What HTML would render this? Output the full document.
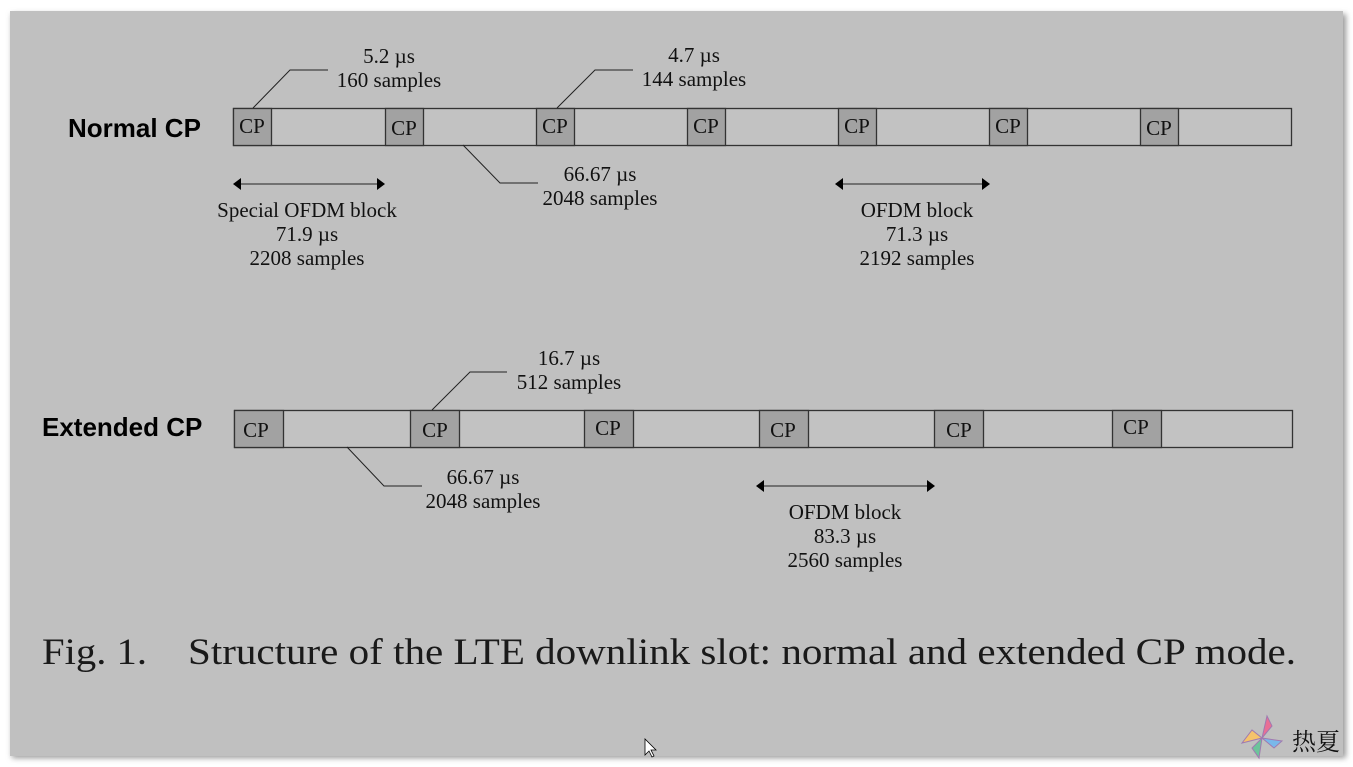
<!DOCTYPE html>
<html><head><meta charset="utf-8"><style>
html,body{margin:0;padding:0;background:#fff;width:1353px;height:767px;overflow:hidden}
svg{display:block}
.s{font-family:"Liberation Serif",serif;font-size:21px;fill:#111}
.b{font-family:"Liberation Sans",sans-serif;font-weight:bold;font-size:26px;fill:#000}
</style></head><body>
<svg width="1353" height="767" viewBox="0 0 1353 767">
<defs>
<filter id="sh" x="-5%" y="-5%" width="110%" height="110%"><feGaussianBlur stdDeviation="3"/></filter>
</defs>
<rect x="12" y="14" width="1334" height="744" fill="#999" filter="url(#sh)"/>
<rect x="10" y="11" width="1333" height="745" fill="#c0c0c0"/>

<!-- Normal CP -->
<text class="b" x="68" y="137">Normal CP</text>
<rect x="233.5" y="108.5" width="1058" height="37" fill="#c2c2c2" stroke="#333" stroke-width="1.3"/>
<g fill="#a2a2a2" stroke="#333" stroke-width="1.3">
<rect x="233.5" y="108.5" width="38" height="37"/>
<rect x="385.5" y="108.5" width="38" height="37"/>
<rect x="536.5" y="108.5" width="38" height="37"/>
<rect x="687.5" y="108.5" width="38" height="37"/>
<rect x="838.5" y="108.5" width="38" height="37"/>
<rect x="989.5" y="108.5" width="38" height="37"/>
<rect x="1140.5" y="108.5" width="38" height="37"/>
</g>
<g class="s" text-anchor="middle">
<text x="252" y="133">CP</text>
<text x="404" y="135">CP</text>
<text x="555" y="133">CP</text>
<text x="706" y="133">CP</text>
<text x="857" y="133">CP</text>
<text x="1008" y="133">CP</text>
<text x="1159" y="135">CP</text>
</g>
<g stroke="#222" stroke-width="1" fill="none">
<polyline points="253,108 290,70 328,70"/>
<polyline points="557,108 595,70 633,70"/>
<polyline points="463,145 500,183 538,183"/>
<line x1="240" y1="184" x2="378" y2="184"/>
<line x1="842" y1="184" x2="983" y2="184"/>
<line x1="763" y1="486" x2="928" y2="486"/>
</g>
<g fill="#000">
<polygon points="233,184 241,178 241,190"/><polygon points="385,184 377,178 377,190"/>
<polygon points="835,184 843,178 843,190"/><polygon points="990,184 982,178 982,190"/>
<polygon points="756,486 764,480 764,492"/><polygon points="935,486 927,480 927,492"/>
</g>
<g class="s" text-anchor="middle">
<text x="389" y="63">5.2 µs</text><text x="389" y="87">160 samples</text>
<text x="694" y="62">4.7 µs</text><text x="694" y="86">144 samples</text>
<text x="600" y="181">66.67 µs</text><text x="600" y="205">2048 samples</text>
<text x="307" y="217">Special OFDM block</text><text x="307" y="241">71.9 µs</text><text x="307" y="265">2208 samples</text>
<text x="917" y="217">OFDM block</text><text x="917" y="241">71.3 µs</text><text x="917" y="265">2192 samples</text>
</g>

<!-- Extended CP -->
<text class="b" x="42" y="436">Extended CP</text>
<rect x="234.5" y="410.5" width="1058" height="37" fill="#c2c2c2" stroke="#333" stroke-width="1.3"/>
<g fill="#a2a2a2" stroke="#333" stroke-width="1.3">
<rect x="234.5" y="410.5" width="49" height="37"/>
<rect x="410.5" y="410.5" width="49" height="37"/>
<rect x="584.5" y="410.5" width="49" height="37"/>
<rect x="759.5" y="410.5" width="49" height="37"/>
<rect x="934.5" y="410.5" width="49" height="37"/>
<rect x="1112.5" y="410.5" width="49" height="37"/>
</g>
<g class="s" text-anchor="middle">
<text x="256" y="437">CP</text>
<text x="435" y="437">CP</text>
<text x="608" y="435">CP</text>
<text x="783" y="437">CP</text>
<text x="959" y="437">CP</text>
<text x="1136" y="434">CP</text>
</g>
<g stroke="#222" stroke-width="1" fill="none">
<polyline points="432,410 470,372 507,372"/>
<polyline points="347,447 384,486 422,486"/>
</g>
<g class="s" text-anchor="middle">
<text x="569" y="365">16.7 µs</text><text x="569" y="389">512 samples</text>
<text x="483" y="484">66.67 µs</text><text x="483" y="508">2048 samples</text>
<text x="845" y="519">OFDM block</text><text x="845" y="543">83.3 µs</text><text x="845" y="567">2560 samples</text>
</g>

<text x="42" y="664" font-family="Liberation Serif,serif" font-size="37" fill="#1a1a1a" textLength="105" lengthAdjust="spacingAndGlyphs">Fig. 1.</text>
<text x="188" y="664" font-family="Liberation Serif,serif" font-size="37" fill="#1a1a1a" textLength="1108" lengthAdjust="spacingAndGlyphs">Structure of the LTE downlink slot: normal and extended CP mode.</text>

<!-- watermark -->
<g transform="translate(1262,738)">
<polygon points="0,0 -20,5 -10,-8" fill="#f5c36b" stroke="#a07ab0"/>
<polygon points="0,0 5,-22 10,-12" fill="#e96f95" stroke="#a07ab0"/>
<polygon points="0,0 20,3 12,10" fill="#79b8ea" stroke="#a07ab0"/>
<polygon points="0,0 -3,20 -10,10" fill="#6cc49a" stroke="#a07ab0"/>
</g>
<text x="1292" y="750" font-family="Noto Serif CJK SC,serif" font-size="24" fill="#111">热夏</text>
<polygon points="645,739 645,755 649,751 652,757 654,756 651,750 656,750" fill="#fff" stroke="#000" stroke-width="0.8"/>
</svg>
</body></html>
